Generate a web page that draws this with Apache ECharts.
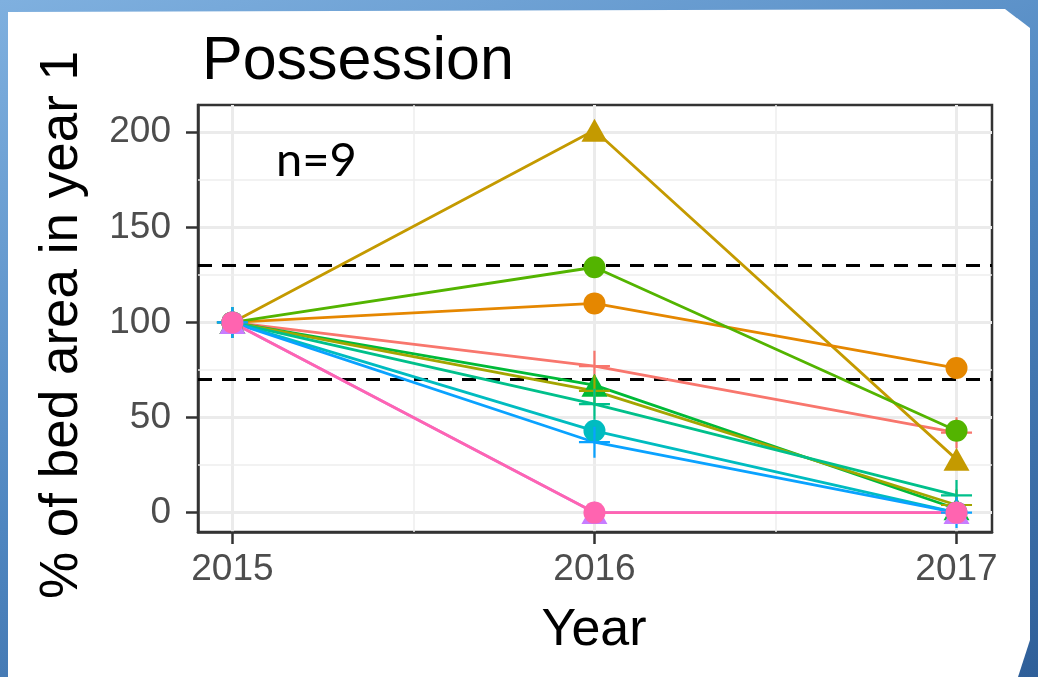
<!DOCTYPE html>
<html>
<head>
<meta charset="utf-8">
<script src="https://cdn.jsdelivr.net/npm/echarts@6/dist/echarts.min.js"></script>
<style>
  html, body { margin: 0; padding: 0; }
  body {
    width: 1038px; height: 677px; overflow: hidden; position: relative;
    background: linear-gradient(160deg, #7fb0df 0%, #4f86c0 50%, #2f5f99 100%);
  }
  #slide {
    position: absolute; left: 0; top: 0; width: 1038px; height: 677px;
    background: #ffffff;
    clip-path: polygon(8px 12px, 1005px 9px, 1030px 28px, 1030px 640px, 1018px 677px, 8px 677px);
  }
  #chart { position: absolute; left: 0; top: 0; width: 1038px; height: 677px; }
</style>
</head>
<body>
<div id="slide"></div>
<div id="chart"></div>
<script>
const years = [2015, 2016, 2017]
const yTicks = [0, 50, 100, 150, 200]
const yMinorGrid = [25, 75, 125, 175]
const xMinorGrid = [2015.5, 2016.5]
const thresholds = [70, 130]

// one entry per bed, values as % of year-1 area
const salmon = [100, 77, 42]
const golden = [100, 201, 28]
const orange = [100, 110, 76]
const lime = [100, 129, 43]
const green = [100, 67, 2]
const olive = [100, 64, 4]
const teal = [100, 57, 9]
const cyan = [100, 43, 0]
const blue = [100, 37, 0]
const violet = [100, 0, 0]
const pink = [100, 0, 0]

const CROSS = 'path://M13,0h2v13h13v2h-13v13h-2v-13h-13v-2h13z'

const beds = [
  { values: salmon, color: '#F8766D', shape: 'cross' },
  { values: golden, color: '#C49A00', shape: 'triangle' },
  { values: orange, color: '#E58700', shape: 'circle' },
  { values: lime, color: '#53B400', shape: 'circle' },
  { values: green, color: '#00BA38', shape: 'triangle' },
  { values: olive, color: '#A3A500', shape: 'cross' },
  { values: teal, color: '#00C08B', shape: 'cross' },
  { values: cyan, color: '#00BCC0', shape: 'circle' },
  { values: blue, color: '#0AA2FF', shape: 'cross' },
  { values: violet, color: '#C77CFF', shape: 'triangle' },
  { values: pink, color: '#FF64B0', shape: 'circle' }
]

const symbolFor = (shape) => {
  if (shape === 'cross') return { symbol: CROSS, symbolSize: 31 }
  if (shape === 'triangle') return { symbol: 'triangle', symbolSize: [26, 23] }
  return { symbol: 'circle', symbolSize: 22 }
}

const chart = echarts.init(document.getElementById('chart'), null, { renderer: 'canvas' })

const series = []

// minor grid + threshold lines
series.push({
  type: 'line',
  data: [],
  silent: true,
  markLine: {
    z: 1,
    silent: true,
    symbol: 'none',
    label: { show: false },
    data: [
      ...yMinorGrid.map(v => ({ yAxis: v, lineStyle: { color: '#EEEEEE', width: 1.5, type: 'solid' } })),
      ...xMinorGrid.map(v => ({ xAxis: v, lineStyle: { color: '#EEEEEE', width: 1.5, type: 'solid' } })),
      ...thresholds.map(v => ({ yAxis: v, lineStyle: { color: '#000000', width: 3, type: [14, 10] } }))
    ]
  }
})

beds.forEach(b => {
  const pts = years.map((y, i) => [y, b.values[i]])
  series.push({
    type: 'line',
    data: pts,
    showSymbol: false,
    z: 2,
    lineStyle: { color: b.color, width: 2.8 },
    silent: true
  })
})

beds.forEach(b => {
  const pts = years.map((y, i) => [y, b.values[i]])
  series.push({
    type: 'scatter',
    data: pts,
    z: 3,
    ...symbolFor(b.shape),
    itemStyle: { color: b.color, opacity: 1 },
    silent: true
  })
})

const axisLineStyle = { color: '#333333', width: 2.5 }

const option = {
  animation: false,
  backgroundColor: 'transparent',
  title: {
    text: 'Possession',
    left: 197,
    top: 27,
    textStyle: { fontFamily: 'Liberation Sans, Arial, sans-serif', fontSize: 61, fontWeight: 'normal', color: '#000', lineHeight: 61 }
  },
  grid: {
    left: 198, right: 46, top: 105, bottom: 145,
    show: true, borderColor: '#333333', borderWidth: 2.5, backgroundColor: 'transparent'
  },
  xAxis: {
    type: 'value',
    min: 2014.905,
    max: 2017.098,
    axisLine: { show: true, onZero: false, lineStyle: axisLineStyle },
    axisTick: { show: true, customValues: years, length: 12, lineStyle: axisLineStyle },
    axisLabel: {
      customValues: years,
      margin: 19,
      formatter: v => String(v),
      color: '#4D4D4D',
      fontSize: 37,
      fontFamily: 'Liberation Sans, Arial, sans-serif'
    },
    splitLine: { show: true, lineStyle: { color: '#EBEBEB', width: 3 } }
  },
  yAxis: {
    type: 'value',
    min: -10.2,
    max: 214.3,
    axisLine: { show: true, onZero: false, lineStyle: axisLineStyle },
    axisTick: { show: true, customValues: yTicks, length: 12, lineStyle: axisLineStyle },
    axisLabel: {
      customValues: yTicks,
      margin: 27,
      color: '#4D4D4D',
      fontSize: 37,
      fontFamily: 'Liberation Sans, Arial, sans-serif'
    },
    splitLine: { show: true, lineStyle: { color: '#EBEBEB', width: 3 } }
  },
  graphic: [
    {
      type: 'text',
      x: 62, y: 325,
      rotation: Math.PI / 2,
      style: {
        text: '% of bed area in year 1',
        font: '53px "Liberation Sans", Arial, sans-serif',
        fill: '#000',
        textAlign: 'center',
        textVerticalAlign: 'middle'
      }
    },
    {
      type: 'text',
      x: 594, y: 631,
      style: {
        text: 'Year',
        font: '52px "Liberation Sans", Arial, sans-serif',
        fill: '#000',
        textAlign: 'center',
        textVerticalAlign: 'middle'
      }
    },
    {
      type: 'text',
      x: 276, y: 161,
      z: 10,
      style: {
        text: 'n=9',
        font: '47px Lato, "Open Sans", sans-serif',
        fill: '#000',
        textAlign: 'left',
        textVerticalAlign: 'middle'
      }
    }
  ],
  series
}

chart.setOption(option)
</script>
</body>
</html>
